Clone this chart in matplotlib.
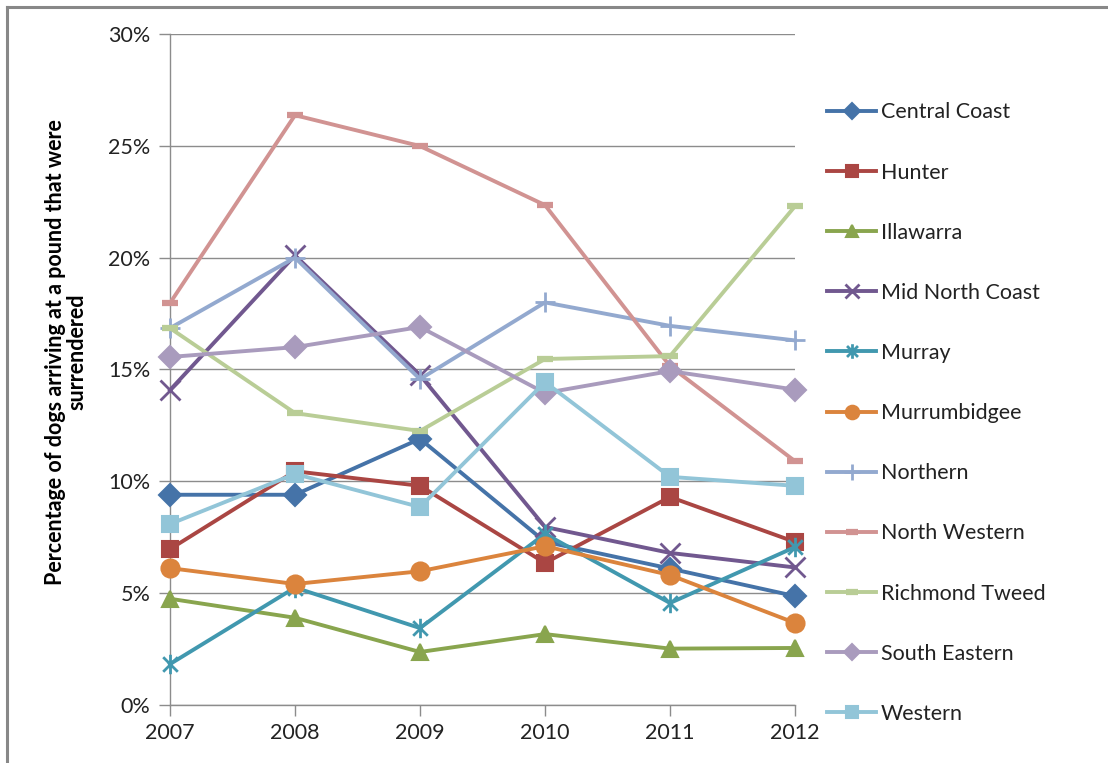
import matplotlib
matplotlib.use("Agg")
import matplotlib.pyplot as plt
from matplotlib.path import Path
from matplotlib.lines import Line2D

years = [2007, 2008, 2009, 2010, 2011, 2012]
central_coast = [9.4, 9.4, 11.9, 7.3, 6.1, 4.87]
hunter = [6.97, 10.45, 9.8, 6.35, 9.3, 7.29]
illawarra = [4.75, 3.9, 2.37, 3.17, 2.52, 2.55]
mid_north_coast = [14.08, 20.1, 14.75, 7.96, 6.8, 6.15]
murray = [1.83, 5.25, 3.44, 7.65, 4.56, 7.06]
murrumbidgee = [6.12, 5.41, 5.98, 7.1, 5.81, 3.67]
northern = [16.85, 20.0, 14.57, 18.0, 16.95, 16.3]
north_western = [17.97, 26.37, 24.99, 22.35, 15.15, 10.9]
richmond_tweed = [16.85, 13.05, 12.25, 15.47, 15.6, 22.3]
south_eastern = [15.56, 16.0, 16.9, 13.95, 14.93, 14.1]
western = [8.09, 10.33, 8.85, 14.44, 10.2, 9.8]

names = ["Central Coast", "Hunter", "Illawarra", "Mid North Coast", "Murray",
         "Murrumbidgee", "Northern", "North Western", "Richmond Tweed",
         "South Eastern", "Western"]
series = [central_coast, hunter, illawarra, mid_north_coast, murray,
          murrumbidgee, northern, north_western, richmond_tweed,
          south_eastern, western]
colors = ["#4573A8", "#AA4643", "#89A54E", "#71588F", "#4198AF", "#DB843D",
          "#93A9CF", "#D19392", "#B9CD96", "#A99BBD", "#92C5D8"]

star = Path([(0, -1), (0, 1), (-0.75, -0.75), (0.75, 0.75), (-0.75, 0.75), (0.75, -0.75)],
            [Path.MOVETO, Path.LINETO, Path.MOVETO, Path.LINETO, Path.MOVETO, Path.LINETO])
markers = ["D", "s", "^", "x", star, "o", "+", "_", "_", "D", "s"]
msizes = [11, 12, 12, 14, 14, 13, 15, 12, 12, 11, 12]
medgew = [1.5, 1.5, 1.5, 2.0, 2.0, 1.5, 2.0, 4.5, 4.5, 1.5, 1.5]

plt.rcParams['font.family'] = ['Lato', 'DejaVu Sans']
txt = "#222222"

fig = plt.figure(figsize=(11.08, 7.63), dpi=100)
ax = fig.add_axes([170/1108, 1-705/763, 625/1108, 671/763])

for name, vals, c, m, ms, mw in zip(names, series, colors, markers, msizes, medgew):
    ax.plot(years, vals, color=c, lw=2.8, marker=m, markersize=ms,
            markerfacecolor=c, markeredgecolor=c, markeredgewidth=mw,
            label=name, solid_joinstyle="round", clip_on=False, zorder=3)

ax.set_xlim(2007, 2012)
ax.set_ylim(0, 30)
ax.set_xticks(years)
ax.set_xticklabels([str(y) for y in years])
ax.set_yticks([0, 5, 10, 15, 20, 25, 30])
ax.set_yticklabels([f"{v}%" for v in [0, 5, 10, 15, 20, 25, 30]])
ax.grid(axis="y", color="#8C8C8C", lw=1.0)
ax.set_axisbelow(True)
for s in ["top", "right"]:
    ax.spines[s].set_visible(False)
for s in ["left", "bottom"]:
    ax.spines[s].set_color("#8C8C8C")
    ax.spines[s].set_linewidth(1.0)
ax.tick_params(axis="both", colors="#8C8C8C", labelcolor=txt, labelsize=15.5,
               length=8, width=1.0)
ax.tick_params(axis="y", pad=6)
ax.tick_params(axis="x", pad=5)

fig.text(66/1108, 1-352/763, "Percentage of dogs arriving at a pound that were\nsurrendered",
         rotation=90, ha="center", va="center", fontsize=15.5, fontweight="bold",
         color="black", linespacing=1.0)

leg = fig.legend(loc="upper left", bbox_to_anchor=(808/1108, 1-83/763), frameon=False,
                 fontsize=15.5, handlelength=2.28, labelspacing=1.865, handletextpad=0.2,
                 markerscale=0.75, labelcolor=txt)

# outer chart border (top and left visible)
fig.add_artist(Line2D([7/1108, 1], [1-7/763, 1-7/763], color="#888888", lw=2.2))
fig.add_artist(Line2D([7/1108, 7/1108], [0, 1-7/763], color="#888888", lw=2.2))

fig.savefig("out.png", dpi=100)
